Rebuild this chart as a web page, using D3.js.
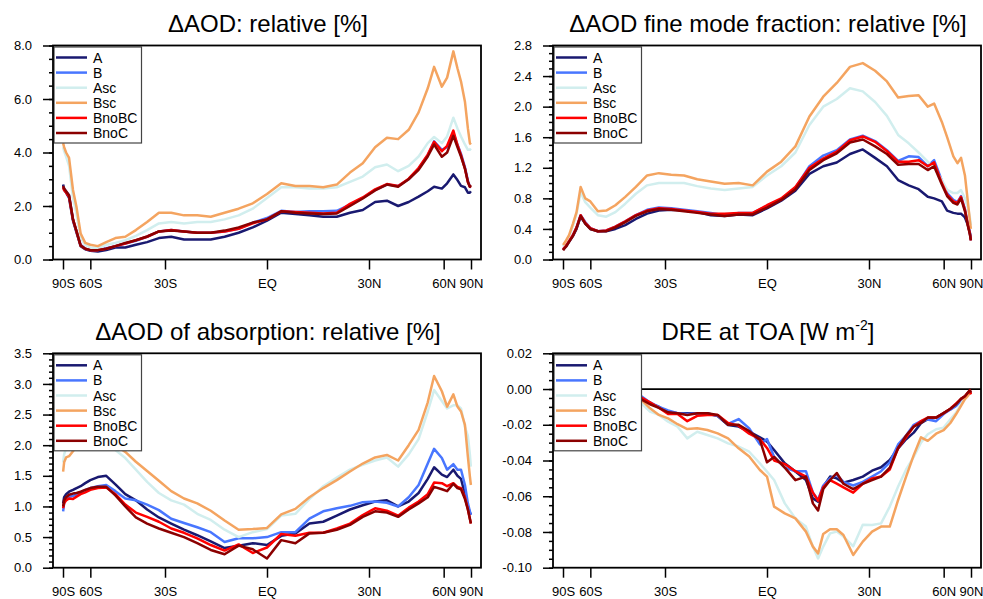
<!DOCTYPE html>
<html>
<head>
<meta charset="utf-8">
<script src="https://cdn.jsdelivr.net/npm/d3@7"></script>
<style>
body { margin: 0; background: #fff; }
svg { font-family: "Liberation Sans", Arial, Helvetica, sans-serif; }
</style>
</head>
<body>
<div id="chart"></div>
<script>
// latitude grid used by the three AOD panels (degrees, south negative)
var latGrid = [-88,-84,-80,-76,-72,-69,-66,-63,-60,-56,-52,-48,-44,-40,-36,-32,-28,-24,-20,-16,-12,-8,-4,0,4,8,12,16,20,24,28,32,36,40,44,48,52,55,59,62,66,69,72,76,80,84,88];
// latitude grid of the DRE panel
var latDRE = [-88,-80,-70,-60,-50,-42,-38,-35,-32,-29,-26,-23,-20,-17,-14,-11,-8,-5,-2,0,2,5,8,11,13,14.5,16,18,20,22,25,28,31,34,37,40,43,46,49,52,56,60,64,68,72,76,80,84,88];

var seriesNames = ["A", "B", "Asc", "Bsc", "BnoBC", "BnoC"];
var seriesColors = ["#191970", "#4876ff", "#d1eeee", "#f4a460", "#ff0000", "#8b0000"];

var latTicks = [-90, -60, -30, 0, 30, 60, 90];
var latTickLabels = ["90S", "60S", "30S", "EQ", "30N", "60N", "90N"];

// delta AOD: relative [%]
var aodA     = [2.8,2.6,2.5,2.3,1.45,1.0,0.5,0.38,0.33,0.3,0.35,0.45,0.45,0.55,0.65,0.8,0.85,0.75,0.75,0.75,0.85,1.0,1.2,1.45,1.75,1.7,1.65,1.6,1.6,1.75,1.85,2.15,2.2,2.0,2.15,2.35,2.55,2.72,2.65,2.85,3.18,2.97,2.75,2.7,2.5,2.5,2.55];
var aodB     = [2.75,2.65,2.55,2.4,1.5,1.05,0.55,0.4,0.35,0.35,0.42,0.5,0.6,0.7,0.85,1.05,1.1,1.05,1.0,1.0,1.05,1.15,1.38,1.55,1.82,1.78,1.8,1.8,1.82,2.05,2.3,2.6,2.8,2.75,3.0,3.4,3.9,4.42,4.1,4.2,4.72,4.3,3.95,3.45,2.95,2.72,2.7];
var aodAsc   = [4.2,4.05,3.85,3.5,2.3,1.7,0.8,0.55,0.45,0.42,0.55,0.62,0.72,0.88,1.1,1.35,1.4,1.35,1.4,1.4,1.5,1.65,1.9,2.3,2.7,2.7,2.65,2.65,2.7,2.9,3.1,3.45,3.55,3.3,3.5,3.85,4.35,4.58,4.35,4.6,5.3,4.9,4.6,4.3,4.1,4.1,4.15];
var aodBsc   = [4.35,4.2,4.0,3.8,2.6,1.95,0.97,0.62,0.55,0.5,0.65,0.8,0.85,1.1,1.4,1.75,1.75,1.65,1.65,1.6,1.75,1.9,2.1,2.45,2.85,2.75,2.75,2.7,2.8,3.25,3.6,4.2,4.55,4.5,4.85,5.5,6.4,7.2,6.46,6.8,7.78,7.15,6.65,5.9,4.9,4.35,4.3];
var aodBnoBC = [2.7,2.6,2.5,2.35,1.5,1.05,0.52,0.4,0.35,0.35,0.4,0.5,0.6,0.72,0.85,1.05,1.1,1.05,1.0,1.0,1.05,1.15,1.35,1.5,1.8,1.78,1.75,1.72,1.75,2.08,2.32,2.62,2.82,2.75,3.02,3.42,3.92,4.4,4.05,4.25,4.82,4.28,3.9,3.4,2.9,2.72,2.75];
var aodBnoC  = [2.75,2.65,2.55,2.4,1.5,1.05,0.52,0.4,0.35,0.35,0.4,0.5,0.62,0.72,0.86,1.05,1.08,1.05,1.0,1.0,1.08,1.2,1.38,1.5,1.8,1.75,1.72,1.7,1.72,2.0,2.28,2.58,2.8,2.72,3.0,3.35,3.85,4.3,3.84,4.0,4.62,4.2,3.85,3.4,2.9,2.72,2.78];

// delta AOD fine mode fraction: relative [%]
var fmfA     = [0.13,0.14,0.17,0.23,0.31,0.4,0.56,0.47,0.4,0.37,0.37,0.4,0.45,0.53,0.6,0.64,0.65,0.64,0.62,0.58,0.57,0.59,0.58,0.67,0.77,0.9,1.12,1.22,1.27,1.38,1.44,1.33,1.22,1.04,0.97,0.92,0.82,0.8,0.76,0.64,0.61,0.6,0.6,0.55,0.45,0.35,0.27];
var fmfB     = [0.13,0.15,0.18,0.24,0.32,0.42,0.58,0.49,0.41,0.37,0.38,0.43,0.5,0.58,0.65,0.68,0.67,0.65,0.63,0.61,0.58,0.61,0.61,0.7,0.79,0.94,1.22,1.36,1.43,1.57,1.62,1.55,1.43,1.29,1.35,1.34,1.22,1.3,1.03,0.87,0.78,0.75,0.83,0.66,0.46,0.35,0.25];
var fmfAsc   = [0.17,0.2,0.24,0.3,0.44,0.6,0.88,0.75,0.68,0.58,0.56,0.62,0.73,0.86,0.97,1.0,1.0,1.0,0.96,0.93,0.91,0.93,0.95,1.1,1.22,1.4,1.76,2.0,2.1,2.24,2.2,2.06,1.88,1.63,1.52,1.4,1.28,1.2,1.04,0.91,0.87,0.87,0.91,0.8,0.68,0.55,0.45];
var fmfBsc   = [0.19,0.21,0.25,0.32,0.47,0.62,0.95,0.8,0.76,0.63,0.64,0.71,0.82,0.95,1.1,1.13,1.11,1.1,1.05,1.02,0.99,1.0,0.97,1.15,1.28,1.48,1.87,2.13,2.31,2.52,2.57,2.47,2.33,2.12,2.14,2.15,2.0,2.04,1.8,1.6,1.35,1.26,1.33,1.1,0.75,0.51,0.4];
var fmfBnoBC = [0.13,0.15,0.18,0.24,0.32,0.42,0.58,0.48,0.41,0.37,0.38,0.43,0.5,0.58,0.64,0.67,0.66,0.64,0.62,0.6,0.6,0.61,0.61,0.71,0.8,0.95,1.2,1.32,1.41,1.56,1.61,1.54,1.42,1.28,1.28,1.3,1.22,1.27,1.0,0.85,0.76,0.74,0.82,0.65,0.45,0.34,0.25];
var fmfBnoC  = [0.12,0.14,0.17,0.23,0.31,0.41,0.57,0.47,0.4,0.37,0.37,0.42,0.49,0.57,0.63,0.66,0.65,0.63,0.61,0.59,0.57,0.59,0.59,0.68,0.78,0.92,1.17,1.3,1.39,1.53,1.57,1.48,1.38,1.24,1.25,1.25,1.17,1.22,0.98,0.83,0.74,0.72,0.8,0.63,0.44,0.33,0.25];

// delta AOD of absorption: relative [%]
var absA     = [1.05,1.15,1.2,1.24,1.27,1.3,1.33,1.38,1.43,1.48,1.5,1.36,1.2,1.1,0.95,0.82,0.72,0.62,0.53,0.43,0.32,0.36,0.4,0.37,0.52,0.56,0.72,0.75,0.85,0.95,1.02,1.08,1.1,1.0,1.08,1.22,1.45,1.64,1.52,1.48,1.6,1.5,1.45,1.2,1.0,0.9,0.87];
var absB     = [0.92,1.05,1.12,1.16,1.17,1.2,1.23,1.27,1.3,1.33,1.35,1.25,1.13,1.1,1.03,0.94,0.8,0.73,0.66,0.58,0.42,0.48,0.48,0.5,0.58,0.58,0.8,0.92,0.97,1.01,1.07,1.08,1.06,1.0,1.15,1.35,1.7,1.94,1.79,1.6,1.69,1.6,1.6,1.35,1.05,0.92,0.86];
var absAsc   = [1.72,1.85,1.95,2.05,2.1,2.15,2.2,2.2,2.2,2.15,2.05,1.92,1.79,1.6,1.4,1.22,1.1,1.03,0.88,0.78,0.62,0.5,0.58,0.63,0.85,0.88,1.12,1.33,1.47,1.6,1.68,1.75,1.8,1.65,1.85,2.1,2.55,2.9,2.72,2.6,2.65,2.65,2.6,2.3,2.15,1.85,1.65];
var absBsc   = [1.57,1.72,1.8,1.82,1.9,1.98,2.05,2.1,2.15,2.15,2.1,2.0,1.89,1.73,1.58,1.42,1.25,1.13,1.05,0.93,0.77,0.62,0.63,0.65,0.87,0.96,1.15,1.3,1.43,1.57,1.7,1.8,1.84,1.75,2.0,2.25,2.7,3.13,2.88,2.63,2.83,2.63,2.55,2.33,1.81,1.49,1.35];
var absBnoBC = [0.97,1.05,1.1,1.13,1.12,1.16,1.2,1.23,1.27,1.3,1.31,1.2,1.03,0.9,0.83,0.75,0.64,0.57,0.48,0.37,0.28,0.38,0.24,0.33,0.55,0.52,0.57,0.57,0.64,0.72,0.86,0.97,0.93,0.85,0.98,1.08,1.2,1.39,1.38,1.33,1.38,1.32,1.3,1.15,0.95,0.8,0.72];
var absBnoC  = [1.0,1.1,1.15,1.19,1.21,1.22,1.24,1.27,1.3,1.32,1.32,1.18,1.0,0.82,0.72,0.64,0.57,0.5,0.4,0.29,0.22,0.36,0.3,0.15,0.45,0.4,0.56,0.57,0.62,0.7,0.83,0.92,0.9,0.83,0.95,1.05,1.15,1.32,1.28,1.25,1.37,1.3,1.28,1.12,0.95,0.8,0.72];

// DRE at TOA [W m-2]
var dreA     = [-0.001,-0.002,-0.003,-0.004,-0.005,-0.005,-0.0052,-0.008,-0.0099,-0.013,-0.0136,-0.0136,-0.0136,-0.0136,-0.0151,-0.0201,-0.021,-0.0238,-0.027,-0.0294,-0.0341,-0.0416,-0.0462,-0.0509,-0.0612,-0.063,-0.0546,-0.049,-0.05,-0.0524,-0.0509,-0.049,-0.0457,-0.0438,-0.0397,-0.0332,-0.0281,-0.0244,-0.0191,-0.0169,-0.016,-0.0135,-0.0113,-0.009,-0.0056,-0.0041,-0.0023,-0.0015,-0.0028];
var dreB     = [-0.001,-0.002,-0.003,-0.004,-0.004,-0.004,-0.004,-0.0075,-0.01,-0.012,-0.0135,-0.014,-0.0135,-0.014,-0.015,-0.0195,-0.0168,-0.022,-0.031,-0.028,-0.038,-0.044,-0.046,-0.046,-0.058,-0.062,-0.054,-0.05,-0.048,-0.052,-0.054,-0.052,-0.049,-0.046,-0.041,-0.031,-0.026,-0.02,-0.018,-0.017,-0.018,-0.014,-0.0115,-0.0095,-0.0065,-0.0045,-0.0025,-0.0012,-0.002];
var dreAsc   = [-0.001,-0.002,-0.003,-0.004,-0.005,-0.006,-0.008,-0.0126,-0.0145,-0.0183,-0.0211,-0.0276,-0.0239,-0.0257,-0.0276,-0.0304,-0.0322,-0.0351,-0.0416,-0.0462,-0.0509,-0.064,-0.0724,-0.077,-0.0882,-0.0948,-0.0882,-0.0808,-0.0798,-0.0826,-0.088,-0.076,-0.0761,-0.0752,-0.0658,-0.0546,-0.045,-0.038,-0.03,-0.0253,-0.0225,-0.0216,-0.0169,-0.0131,-0.0084,-0.0047,-0.0028,-0.0019,-0.0028];
var dreBsc   = [-0.001,-0.002,-0.003,-0.004,-0.005,-0.006,-0.0061,-0.0108,-0.0145,-0.0164,-0.0197,-0.0224,-0.022,-0.0229,-0.0248,-0.0276,-0.0332,-0.0378,-0.0453,-0.049,-0.0658,-0.0696,-0.0724,-0.0798,-0.0882,-0.092,-0.0811,-0.0785,-0.0785,-0.0817,-0.0929,-0.0854,-0.0798,-0.077,-0.077,-0.0621,-0.049,-0.037,-0.027,-0.029,-0.025,-0.023,-0.019,-0.014,-0.0094,-0.0056,-0.0038,-0.0022,-0.0028];
var dreBnoBC = [-0.001,-0.002,-0.003,-0.004,-0.005,-0.005,-0.0048,-0.0075,-0.0105,-0.014,-0.014,-0.018,-0.015,-0.0145,-0.0145,-0.019,-0.0205,-0.025,-0.028,-0.033,-0.04,-0.042,-0.046,-0.049,-0.058,-0.0625,-0.055,-0.051,-0.053,-0.055,-0.058,-0.053,-0.05,-0.049,-0.045,-0.033,-0.027,-0.021,-0.018,-0.016,-0.016,-0.0135,-0.011,-0.008,-0.0055,-0.004,-0.002,-0.001,-0.003];
var dreBnoC  = [-0.001,-0.002,-0.003,-0.004,-0.005,-0.006,-0.0058,-0.0085,-0.0105,-0.013,-0.0135,-0.0145,-0.0135,-0.0135,-0.0145,-0.02,-0.02,-0.0235,-0.0285,-0.041,-0.038,-0.044,-0.051,-0.049,-0.064,-0.068,-0.056,-0.051,-0.047,-0.053,-0.056,-0.053,-0.051,-0.049,-0.044,-0.033,-0.026,-0.021,-0.019,-0.016,-0.016,-0.0135,-0.011,-0.0085,-0.0055,-0.004,-0.002,-0.0005,-0.002];

// y tick values and labels
var aodTicks = [0, 2, 4, 6, 8];
var aodTickLabels = ["0.0", "2.0", "4.0", "6.0", "8.0"];
var fmfTicks = [0, 0.4, 0.8, 1.2, 1.6, 2.0, 2.4, 2.8];
var fmfTickLabels = ["0.0", "0.4", "0.8", "1.2", "1.6", "2.0", "2.4", "2.8"];
var absTicks = [0, 0.5, 1.0, 1.5, 2.0, 2.5, 3.0, 3.5];
var absTickLabels = ["0.0", "0.5", "1.0", "1.5", "2.0", "2.5", "3.0", "3.5"];
var dreTicks = [-0.10, -0.08, -0.06, -0.04, -0.02, 0, 0.02];
var dreTickLabels = ["-0.10", "-0.08", "-0.06", "-0.04", "-0.02", "0.00", "0.02"];

var panels = [
  {title: "ΔAOD: relative [%]", left: 53, right: 481, top: 45.5, bottom: 259.5, lats: latGrid,
   yDomain: [0, 8], ticks: aodTicks, tickLabels: aodTickLabels, minorStep: 0.5,
   series: [aodA, aodB, aodAsc, aodBsc, aodBnoBC, aodBnoC]},
  {title: "ΔAOD fine mode fraction: relative [%]", left: 553, right: 981, top: 45.5, bottom: 259.5, lats: latGrid,
   yDomain: [0, 2.8], ticks: fmfTicks, tickLabels: fmfTickLabels, minorStep: 0.1,
   series: [fmfA, fmfB, fmfAsc, fmfBsc, fmfBnoBC, fmfBnoC]},
  {title: "ΔAOD of absorption: relative [%]", left: 53, right: 481, top: 353.3, bottom: 567.7, lats: latGrid,
   yDomain: [0, 3.5], ticks: absTicks, tickLabels: absTickLabels, minorStep: 0.1,
   series: [absA, absB, absAsc, absBsc, absBnoBC, absBnoC]},
  {title: "DRE at TOA [W m", sup: "-2", titleEnd: "]", left: 553, right: 981, top: 353.3, bottom: 567.7, lats: latDRE,
   yDomain: [-0.1, 0.02], ticks: dreTicks, tickLabels: dreTickLabels, minorStep: 0.005, zeroLine: true,
   series: [dreA, dreB, dreAsc, dreBsc, dreBnoBC, dreBnoC]}
];

var svg = d3.select("#chart").append("svg").attr("width", 983).attr("height", 599);
svg.append("rect").attr("width", 983).attr("height", 599).attr("fill", "white");

function sinLat(d) { return Math.sin(d * Math.PI / 180); }

function styleAxis(a) {
  a.select(".domain").remove();
  a.attr("font-size", 13).attr("font-family", "Liberation Sans, Arial, sans-serif");
  a.selectAll("line").attr("stroke", "black").attr("stroke-width", 1.5);
  a.selectAll("text").attr("fill", "black");
}

panels.forEach(function(p) {
  var x = d3.scaleLinear().domain([-1, 1]).range([p.left + 10, p.right - 10]);
  var y = d3.scaleLinear().domain(p.yDomain).range([p.bottom, p.top]);
  var g = svg.append("g");

  if (p.zeroLine) {
    g.append("line").attr("x1", p.left).attr("x2", p.right).attr("y1", y(0)).attr("y2", y(0))
      .attr("stroke", "black").attr("stroke-width", 1.8);
  }

  var line = d3.line()
    .x(function(d) { return x(sinLat(d[0])); })
    .y(function(d) { return y(d[1]); });

  p.series.forEach(function(vals, i) {
    g.append("path")
      .datum(p.lats.map(function(l, j) { return [l, vals[j]]; }))
      .attr("d", line)
      .attr("fill", "none")
      .attr("stroke", seriesColors[i])
      .attr("stroke-width", 2.5)
      .attr("stroke-linejoin", "round");
  });

  // legend, white box on top of the lines
  var lg = g.append("g").attr("transform", "translate(" + (p.left + 1) + "," + (p.top + 1.5) + ")");
  lg.append("rect").attr("x", 0).attr("y", 0).attr("width", 87.5).attr("height", 96)
    .attr("fill", "white").attr("stroke", "#444").attr("stroke-width", 1.2);
  seriesNames.forEach(function(name, i) {
    var cy = 10.5 + i * 15.1;
    lg.append("line").attr("x1", 2).attr("x2", 33).attr("y1", cy).attr("y2", cy)
      .attr("stroke", seriesColors[i]).attr("stroke-width", 2.5);
    lg.append("text").attr("x", 39).attr("y", cy).attr("dy", "0.36em")
      .style("font-size", "14px").text(name);
  });

  // minor ticks on the y axis
  var minor = d3.range(p.yDomain[0], p.yDomain[1] + p.minorStep / 2, p.minorStep);
  g.append("g").attr("transform", "translate(" + p.left + ",0)")
    .call(d3.axisLeft(y).tickValues(minor).tickSize(4).tickFormat(""))
    .call(styleAxis);

  g.append("g").attr("transform", "translate(" + p.left + ",0)")
    .call(d3.axisLeft(y).tickValues(p.ticks).tickSize(10).tickPadding(11)
      .tickFormat(function(d, i) { return p.tickLabels[i]; }))
    .call(styleAxis);

  g.append("g").attr("transform", "translate(0," + p.bottom + ")")
    .call(d3.axisBottom(x).tickValues(latTicks.map(sinLat)).tickSize(10).tickPadding(9)
      .tickFormat(function(d, i) { return latTickLabels[i]; }))
    .call(styleAxis);

  g.append("rect").attr("x", p.left).attr("y", p.top)
    .attr("width", p.right - p.left).attr("height", p.bottom - p.top)
    .attr("fill", "none").attr("stroke", "black").attr("stroke-width", 1.8);

  var t = g.append("text").attr("x", (p.left + p.right) / 2 + 1).attr("y", p.top - 13.5)
    .attr("text-anchor", "middle").style("font-size", "24px").text(p.title);
  if (p.sup) {
    t.append("tspan").attr("dy", -10).style("font-size", "14px").text(p.sup);
    t.append("tspan").attr("dy", 10).text(p.titleEnd);
  }
});
</script>
</body>
</html>
